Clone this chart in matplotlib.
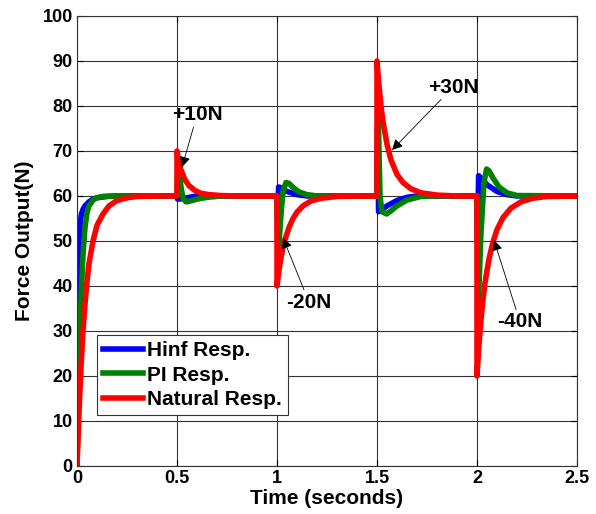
import matplotlib.pyplot as plt

plt.rcParams['font.family'] = ['Liberation Sans', 'DejaVu Sans']
plt.rcParams['font.weight'] = 'bold'

# Natural response (red)
t_nat = [0, 0.01, 0.02, 0.03, 0.04, 0.05, 0.06, 0.08, 0.10, 0.13, 0.16, 0.20, 0.25, 0.30, 0.40,
         0.5, 0.5, 0.51, 0.52, 0.54, 0.56, 0.59, 0.62, 0.66, 0.72, 0.8,
         1.0, 1.0, 1.01, 1.02, 1.03, 1.04, 1.06, 1.08, 1.10, 1.13, 1.17, 1.22, 1.3, 1.4,
         1.5, 1.5, 1.51, 1.52, 1.53, 1.55, 1.57, 1.60, 1.63, 1.67, 1.72, 1.8, 1.9,
         2.0, 2.0, 2.01, 2.02, 2.03, 2.04, 2.06, 2.08, 2.10, 2.13, 2.17, 2.22, 2.28, 2.35, 2.5]
f_nat = [0, 12, 22, 30, 36, 41, 45, 50, 53.5, 56, 57.8, 59, 59.6, 59.9, 60,
         60, 70, 67.5, 65.8, 63.6, 62.3, 61.2, 60.6, 60.3, 60.1, 60,
         60, 40, 43.5, 46.3, 48.6, 50.3, 53, 55, 56.4, 57.8, 58.9, 59.5, 59.9, 60,
         60, 90, 84.5, 80, 76.5, 71.5, 68, 64.8, 63, 61.6, 60.7, 60.2, 60,
         60, 20, 27, 32.5, 37, 40.7, 46, 49.8, 52.5, 55.2, 57.3, 58.7, 59.5, 59.9, 60]

# PI response (green)
t_pi = [0, 0.005, 0.01, 0.02, 0.03, 0.04, 0.05, 0.06, 0.08, 0.10, 0.13, 0.2,
        0.5, 0.505, 0.52, 0.53, 0.545, 0.56, 0.6, 0.65, 0.72,
        1.0, 1.005, 1.02, 1.03, 1.045, 1.06, 1.08, 1.11, 1.15, 1.2,
        1.5, 1.505, 1.51, 1.515, 1.525, 1.548, 1.57, 1.6, 1.65, 1.72, 1.8,
        2.0, 2.005, 2.02, 2.035, 2.048, 2.06, 2.08, 2.11, 2.15, 2.2, 2.5]
f_pi = [0, 10, 20, 37, 47, 53, 56.3, 57.8, 59.1, 59.6, 59.9, 60,
        60, 67, 62, 59.5, 58.7, 58.8, 59.3, 59.7, 60,
        60, 46, 56, 61, 63, 62.8, 61.9, 60.9, 60.3, 60,
        60, 82, 70, 60, 56.5, 56, 56.7, 57.8, 59.1, 59.9, 60,
        60, 34, 52, 63, 66, 65.6, 64, 62, 60.7, 60.1, 60]

# Hinf response (blue)
t_hinf = [0, 0.004, 0.008, 0.012, 0.016, 0.022, 0.03, 0.04, 0.06, 0.08, 0.10, 0.15, 0.2,
          0.5, 0.503, 0.53, 0.56, 0.6,
          1.0, 1.003, 1.008, 1.02, 1.05, 1.1, 1.15,
          1.5, 1.503, 1.508, 1.52, 1.55, 1.6, 1.65, 1.7,
          2.0, 2.003, 2.008, 2.02, 2.05, 2.1, 2.15, 2.2, 2.5]
f_hinf = [0, 25, 40, 50, 54, 56, 57, 57.8, 58.7, 59.3, 59.6, 59.9, 60,
          60, 59.3, 59.4, 59.7, 60,
          60, 55, 62, 61.8, 61, 60.3, 60,
          60, 75, 56.5, 56.8, 57.8, 59, 59.7, 60,
          60, 50, 64.5, 64, 62.5, 61, 60.3, 60, 60]

labels = ['Hinf Resp.', 'PI Resp.', 'Natural Resp.']

fig = plt.figure(figsize=(5.96, 5.14), dpi=100)
ax = fig.add_axes([0.1292, 0.0934, 0.8389, 0.8755])

ax.plot(t_hinf, f_hinf, color='#0000ff', lw=4, label=labels[0])
ax.plot(t_pi, f_pi, color='#008000', lw=4, label=labels[1])
ax.plot(t_nat, f_nat, color='#ff0000', lw=4, label=labels[2])

ax.set_xlim(0, 2.5)
ax.set_ylim(0, 100)
ax.set_xticks([0, 0.5, 1, 1.5, 2, 2.5])
ax.set_xticklabels(['0', '0.5', '1', '1.5', '2', '2.5'])
ax.set_yticks(range(0, 101, 10))
ax.grid(True, color='#333333', lw=0.8)
ax.tick_params(direction='in', top=True, right=True, length=4, labelsize=13)
ax.tick_params(axis='x', pad=3)
ax.tick_params(axis='y', pad=3)
for s in ax.spines.values():
    s.set_color('#333333')

ax.set_xlabel('Time (seconds)', fontsize=15, fontweight='bold', labelpad=1)
ax.set_ylabel('Force Output(N)', fontsize=15, fontweight='bold', labelpad=6)

arrow = dict(arrowstyle='-|>', color='black', lw=0.6, mutation_scale=16, shrinkA=0, shrinkB=0)
ax.annotate('+10N', xy=(0.525, 66.4), xytext=(0.6, 78), fontsize=15, fontweight='bold',
            ha='center', va='center', arrowprops=arrow)
ax.annotate('+30N', xy=(1.575, 70.2), xytext=(1.88, 84.2), fontsize=15, fontweight='bold',
            ha='center', va='center', arrowprops=arrow)
ax.annotate('-20N', xy=(1.03, 50.7), xytext=(1.16, 36.4), fontsize=15, fontweight='bold',
            ha='center', va='center', arrowprops=arrow)
ax.annotate('-40N', xy=(2.085, 50.2), xytext=(2.215, 32), fontsize=15, fontweight='bold',
            ha='center', va='center', arrowprops=arrow)

leg = ax.legend(loc='lower left', bbox_to_anchor=(0.04, 0.113), borderaxespad=0,
                fancybox=False, framealpha=1, edgecolor='#333333', fontsize=15,
                handlelength=1.9, handletextpad=0.2, labelspacing=0.25, borderpad=0.3)
leg.get_frame().set_linewidth(0.8)

fig.savefig('out.png', dpi=100)
